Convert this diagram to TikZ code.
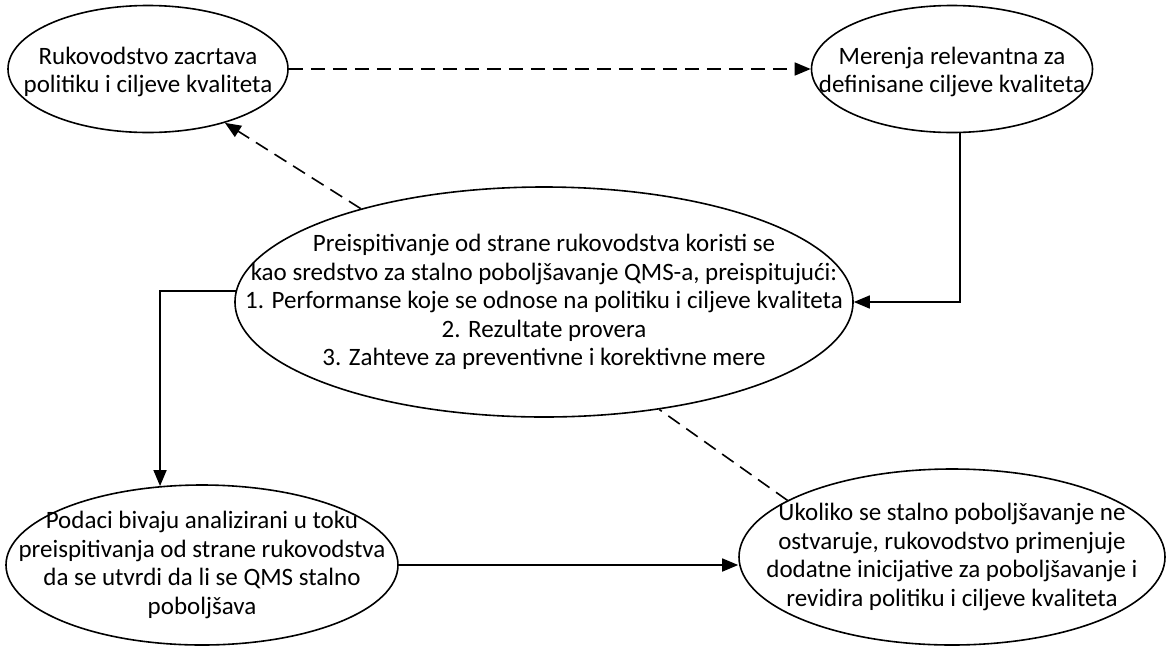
\documentclass[tikz,border=0pt]{standalone}
\usepackage{fontspec}
\setmainfont{Carlito}
\usetikzlibrary{shapes.geometric,arrows.meta}

\begin{document}
\begin{tikzpicture}[x=1pt,y=-1pt,
  bubble/.style={ellipse,draw,line width=1.6pt,inner sep=0pt},
  words/.style={align=center,inner sep=0pt,font=\fontsize{25}{28.5}\selectfont},
  link/.style={line width=1.6pt},
  dashlink/.style={link,dash pattern=on 14pt off 8pt},
  tip/.style={-{Triangle[length=16pt,width=13pt]}}]
  \useasboundingbox (0,0) rectangle (1169,646);

  % the five stages: fixed ellipse outlines, text set on top of their centres
  \node[bubble,minimum width=280,minimum height=127] (lead) at (148,69) {};
  \node[bubble,minimum width=281,minimum height=127] (meas) at (952,69) {};
  \node[bubble,minimum width=618,minimum height=230] (review) at (544,302) {};
  \node[bubble,minimum width=392,minimum height=160] (data) at (202,565) {};
  \node[bubble,minimum width=426,minimum height=176] (fix) at (952,557) {};

  \node[words,yshift=-3pt] (leadtext) at (lead.center)
    {Rukovodstvo zacrtava\\politiku i ciljeve kvaliteta};
  \node[words,yshift=-3pt] (meastext) at (meas.center)
    {Merenja relevantna za\\definisane ciljeve kvaliteta};
  \node[words] (reviewtext) at (review.center)
    {Preispitivanje od strane rukovodstva koristi se\\
     kao sredstvo za stalno poboljšavanje QMS-a, preispitujući:\\
     1. Performanse koje se odnose na politiku i ciljeve kvaliteta\\
     2. Rezultate provera\\
     3. Zahteve za preventivne i korektivne mere};
  \node[words] (datatext) at (data.center)
    {Podaci bivaju analizirani u toku\\preispitivanja od strane rukovodstva\\
     da se utvrdi da li se QMS stalno\\poboljšava};
  \node[words] (fixtext) at (fix.center)
    {Ukoliko se stalno poboljšavanje ne\\ostvaruje, rukovodstvo primenjuje\\
     dodatne inicijative za poboljšavanje i\\revidira politiku i ciljeve kvaliteta};

  % connectors
  \draw[dashlink,tip] (lead.east) -- (meas.west);
  \draw[link,tip] ([xshift=8pt]meas.south) |- (review.east);
  \draw[dashlink,tip] (review.153) -- (lead.-35);
  \draw[link,tip] (review.178) -| (data.118.3);
  \draw[link,tip] (data.east) -- (data.east -| fix.west);
  \draw[dashlink] (fix.161.4) -- (review.-43.7);
\end{tikzpicture}
\end{document}
